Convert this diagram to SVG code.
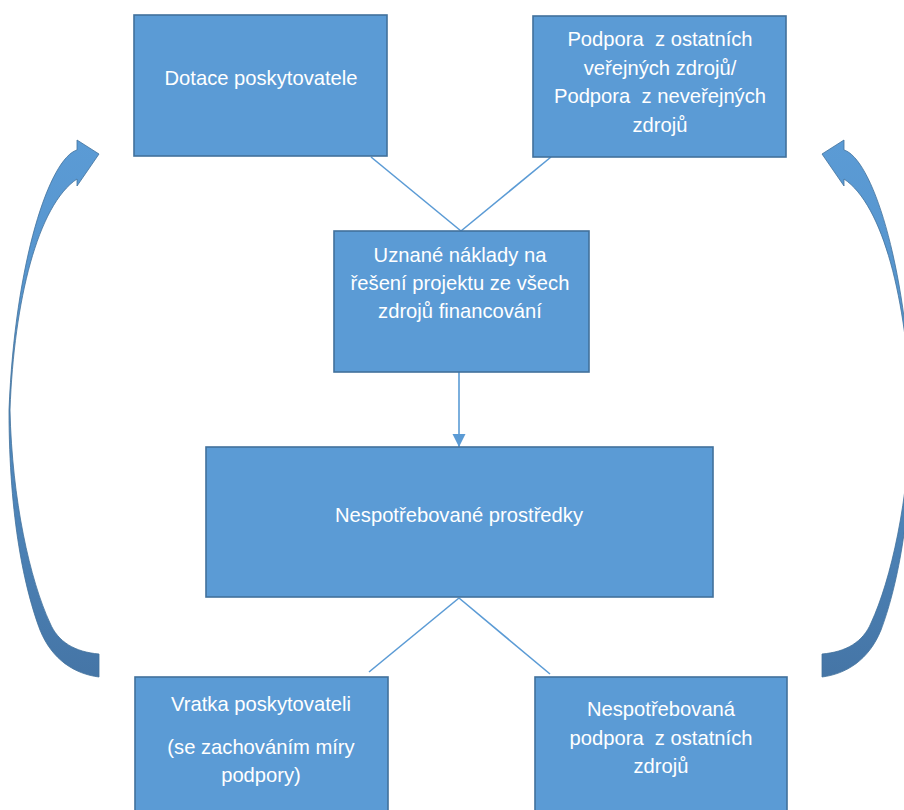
<svg xmlns="http://www.w3.org/2000/svg" width="904" height="810" viewBox="0 0 904 810">
<style>
.box{fill:#5B9BD5;stroke:#41719C;stroke-width:1.6}
.lbl{font-family:"Liberation Sans",Arial,sans-serif;font-size:20.2px;fill:#FFFFFF;text-anchor:middle;white-space:pre}
.conn{stroke:#5B9BD5;stroke-width:1.6;fill:none}
.curve{fill:url(#cg);stroke:#41719C;stroke-width:0.8;stroke-linejoin:round}
</style>
<defs>
<linearGradient id="cg" gradientUnits="userSpaceOnUse" x1="0" y1="140" x2="0" y2="680">
<stop offset="0" stop-color="#5B9BD5"/>
<stop offset="0.35" stop-color="#5593CB"/>
<stop offset="1" stop-color="#4575A6"/>
</linearGradient>
<marker id="ah" markerWidth="14" markerHeight="14" refX="13" refY="7" orient="auto" markerUnits="userSpaceOnUse">
<path d="M0,0.5 L13,7 L0,13.5 Z" fill="#5B9BD5"/>
</marker>
</defs>
<rect width="904" height="810" fill="#FFFFFF"/>
<g id="connectors">
<line class="conn" x1="371" y1="157" x2="461" y2="231"/>
<line class="conn" x1="551" y1="157" x2="461" y2="231"/>
<line class="conn" x1="459" y1="372" x2="459" y2="447" stroke-width="2.5" marker-end="url(#ah)"/>
<line class="conn" x1="459" y1="598" x2="369" y2="672"/>
<line class="conn" x1="459" y1="598" x2="550" y2="674"/>
<path id="curve-left" class="curve" d="M99,154 L77,140 L77,150 C50,158 15,260 9,410 C9,520 25,590 40,630 C52,660 75,674 99,677 L99,654 C75,652 58,642 50,623 C30,580 12,500 10,410 C14,300 38,205 77,179 L77,186 Z"/>
<path id="curve-right" class="curve" transform="translate(921,0) scale(-1,1)" d="M99,154 L77,140 L77,150 C50,158 15,260 9,410 C9,520 25,590 40,630 C52,660 75,674 99,677 L99,654 C75,652 58,642 50,623 C30,580 12,500 10,410 C14,300 38,205 77,179 L77,186 Z"/>
</g>
<g id="n-dotace">
<rect class="box" x="134" y="15" width="253" height="141"/>
<text class="lbl" x="261" y="85">Dotace poskytovatele</text>
</g>
<g id="n-podpora">
<rect class="box" x="533" y="16" width="253" height="141"/>
<text class="lbl" x="660" y="46" xml:space="preserve">Podpora  z ostatních</text>
<text class="lbl" x="660" y="75">veřejných zdrojů/</text>
<text class="lbl" x="660" y="103" xml:space="preserve">Podpora  z neveřejných</text>
<text class="lbl" x="660" y="132">zdrojů</text>
</g>
<g id="n-uznane">
<rect class="box" x="334" y="231" width="255" height="141"/>
<text class="lbl" x="460" y="262">Uznané náklady na</text>
<text class="lbl" x="460" y="290">řešení projektu ze všech</text>
<text class="lbl" x="460" y="318">zdrojů financování</text>
</g>
<g id="n-nespotrebovane">
<rect class="box" x="206" y="447" width="507" height="150"/>
<text class="lbl" x="459" y="522">Nespotřebované prostředky</text>
</g>
<g id="n-vratka">
<rect class="box" x="135" y="677" width="253" height="145"/>
<text class="lbl" x="261" y="711">Vratka poskytovateli</text>
<text class="lbl" x="261" y="754">(se zachováním míry</text>
<text class="lbl" x="261" y="782">podpory)</text>
</g>
<g id="n-nespotrebovana-podpora">
<rect class="box" x="535" y="677" width="252" height="145"/>
<text class="lbl" x="661" y="716">Nespotřebovaná</text>
<text class="lbl" x="661" y="745" xml:space="preserve">podpora  z ostatních</text>
<text class="lbl" x="661" y="773">zdrojů</text>
</g>
</svg>
